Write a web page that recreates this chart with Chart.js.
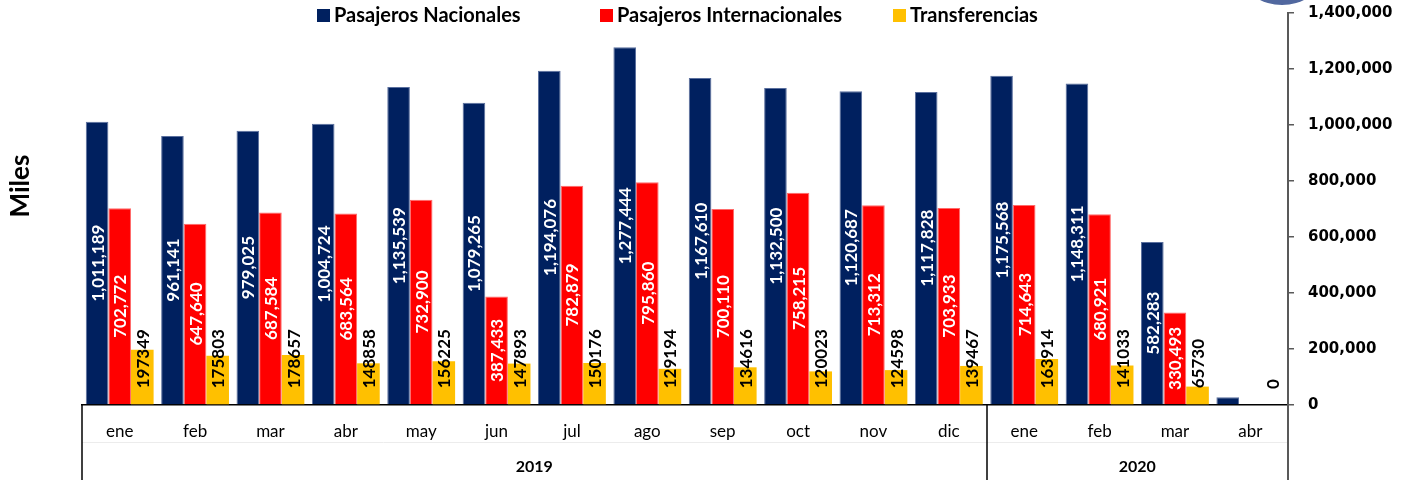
<!DOCTYPE html>
<html lang="es">
<head>
<meta charset="utf-8">
<title>Pasajeros</title>
<script src="https://cdn.jsdelivr.net/npm/chart.js@4/dist/chart.umd.min.js"></script>
<style>
  body { margin: 0; background: #fff; }
  #wrap { position: relative; width: 1408px; height: 480px; overflow: hidden; }
  #logo {
    position: absolute; left: 1245px; top: -46px; width: 74px; height: 51px;
    border-radius: 50%; background: #51689f;
  }
</style>
</head>
<body>
<div id="wrap">
  <canvas id="Chart1" width="1408" height="480"></canvas>
  <div id="logo"></div>
</div>
<script>
// datos
var meses = ['ene', 'feb', 'mar', 'abr', 'may', 'jun', 'jul', 'ago', 'sep', 'oct', 'nov', 'dic', 'ene', 'feb', 'mar', 'abr'];
var anios = ['2019', '2020'];
var mesesPorAnio = [12, 4];
var nombres = ['Pasajeros Nacionales', 'Pasajeros Internacionales', 'Transferencias'];
var nacionales = [1011189, 961141, 979025, 1004724, 1135539, 1079265, 1194076, 1277444, 1167610, 1132500, 1120687, 1117828,
    1175568, 1148311, 582283, 27500];
var internacionales = [702772, 647640, 687584, 683564, 732900, 387433, 782879, 795860, 700110, 758215, 713312, 703933,
    714643, 680921, 330493, 0];
var transferencias = [197349, 175803, 178657, 148858, 156225, 147893, 150176, 129194, 134616, 120023, 124598, 139467,
    163914, 141033, 65730, 0];
var yMin = 0, yMax = 1400000, yPaso = 200000;

var colores = ['#00205f', '#ff0000', '#ffc000'];
var bordes = ['#5a6f9e', '#ff6a6a', '#ffd24d'];
var fuente = 'Lato, "Open Sans", sans-serif';

// etiquetas de valor sobre las barras
var etiquetas = {
    id: 'etiquetas',
    afterDatasetsDraw: function (chart) {
        var ctx = chart.ctx;
        chart.data.datasets.forEach(function (ds, i) {
            var meta = chart.getDatasetMeta(i);
            meta.data.forEach(function (bar, j) {
                var v = ds.data[j];
                ctx.save();
                ctx.font = 'bold 17px ' + fuente;
                ctx.textBaseline = 'middle';
                if (i < 2) {
                    var txt = v.toLocaleString('en-US');
                    var alto = bar.base - bar.y;
                    if (ctx.measureText(txt).width > alto) { ctx.restore(); return; }
                    ctx.translate(bar.x, (bar.y + bar.base) / 2);
                    ctx.rotate(-Math.PI / 2);
                    ctx.textAlign = 'center';
                    ctx.fillStyle = '#fff';
                    ctx.fillText(txt, 0, 1);
                } else {
                    ctx.translate(bar.x, bar.base - 16);
                    ctx.rotate(-Math.PI / 2);
                    ctx.textAlign = 'left';
                    ctx.fillStyle = '#000';
                    ctx.fillText(String(v), 0, 1);
                }
                ctx.restore();
            });
        });
    }
};

// leyenda, años, divisiones y titulo "Miles"
var extras = {
    id: 'extras',
    afterDraw: function (chart) {
        var ctx = chart.ctx;
        var x = chart.scales.x;
        var area = chart.chartArea;
        ctx.save();

        // leyenda
        var legendX = [317, 600, 893];
        ctx.font = 'bold 20px ' + fuente;
        ctx.textBaseline = 'middle';
        ctx.textAlign = 'left';
        chart.data.datasets.forEach(function (ds, i) {
            ctx.fillStyle = ds.backgroundColor;
            ctx.fillRect(legendX[i], 9, 13, 13);
            ctx.fillStyle = '#000';
            ctx.fillText(ds.label, legendX[i] + 17, 16);
        });

        // linea tenue entre meses y años
        ctx.strokeStyle = '#ececec';
        ctx.lineWidth = 1;
        ctx.beginPath();
        ctx.moveTo(area.left, 442.5);
        ctx.lineTo(area.right, 442.5);
        ctx.stroke();

        // divisiones de años
        var ancho = (x.getPixelForValue(1) - x.getPixelForValue(0));
        var inicio = 0;
        var cortes = [x.getPixelForValue(0) - ancho / 2];
        ctx.font = 'bold 16px ' + fuente;
        ctx.textAlign = 'center';
        ctx.fillStyle = '#000';
        anios.forEach(function (a, k) {
            var fin = inicio + mesesPorAnio[k] - 1;
            var x0 = x.getPixelForValue(inicio) - ancho / 2;
            var x1 = x.getPixelForValue(fin) + ancho / 2;
            cortes.push(x1);
            ctx.fillText(a, (x0 + x1) / 2, 467);
            inicio = fin + 1;
        });
        cortes.forEach(function (cx, k) {
            ctx.strokeStyle = k === cortes.length - 1 ? '#595959' : '#000';
            ctx.lineWidth = k === cortes.length - 1 ? 2 : 1.5;
            ctx.beginPath();
            ctx.moveTo(Math.round(cx), area.bottom);
            ctx.lineTo(Math.round(cx), chart.height);
            ctx.stroke();
        });

        // titulo eje
        ctx.translate(21, 186);
        ctx.rotate(-Math.PI / 2);
        ctx.font = 'bold 26px ' + fuente;
        ctx.fillStyle = '#000';
        ctx.fillText('Miles', 0, 0);
        ctx.restore();
    }
};

var ctx1 = document.getElementById('Chart1');
var chart1 = new Chart(ctx1, {
    type: 'bar',
    data: {
        labels: meses,
        datasets: [{
            label: nombres[0],
            data: nacionales,
            backgroundColor: colores[0],
            borderColor: bordes[0],
            borderWidth: 1
        }, {
            label: nombres[1],
            data: internacionales,
            backgroundColor: colores[1],
            borderColor: bordes[1],
            borderWidth: 1
        }, {
            label: nombres[2],
            data: transferencias,
            backgroundColor: colores[2],
            borderColor: bordes[2],
            borderWidth: 0
        }]
    },
    options: {
        responsive: false,
        animation: false,
        layout: { padding: { left: 82, top: 13, right: 0, bottom: 0 } },
        datasets: { bar: { categoryPercentage: 0.9, barPercentage: 1.0 } },
        plugins: {
            legend: { display: false },
            tooltip: { enabled: false }
        },
        scales: {
            x: {
                grid: { display: false, drawTicks: false },
                border: { display: true, color: '#000', width: 1.5 },
                ticks: { color: '#000', padding: 16, font: { family: fuente, size: 17 } },
                afterFit: function (s) { s.height = 75; }
            },
            y: {
                position: 'right',
                min: yMin,
                max: yMax,
                grid: { drawOnChartArea: false, color: '#595959', tickLength: 6, lineWidth: 1.5 },
                border: { color: '#595959', width: 2 },
                ticks: {
                    stepSize: yPaso,
                    color: '#000',
                    padding: 14,
                    font: { family: '"DejaVu Sans", sans-serif', size: 15, weight: 'bold' },
                    callback: function (v) { return v.toLocaleString('en-US'); }
                },
                afterFit: function (s) {
                    s.width = 120;
                    s.paddingTop = 0;
                    s.paddingBottom = 0;
                }
            }
        }
    },
    plugins: [etiquetas, extras]
});
</script>
</body>
</html>
